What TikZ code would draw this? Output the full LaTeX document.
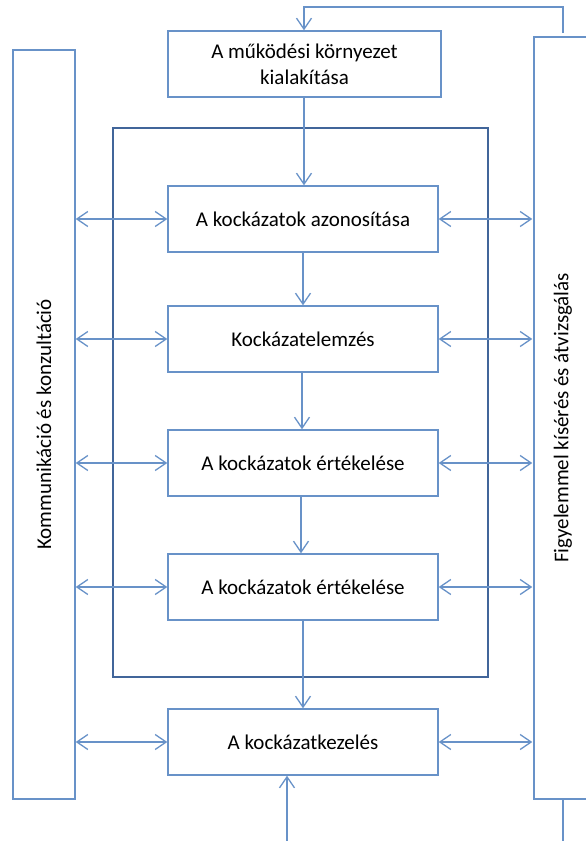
\documentclass[tikz,border=0pt]{standalone}
\usepackage{fontspec}
\setmainfont{Carlito}
\usetikzlibrary{arrows.meta,calc}
\definecolor{boxblue}{HTML}{6892C8}
\definecolor{darkblue}{HTML}{41659A}
\tikzset{
  stepbox/.style={draw=boxblue,line width=1.4pt,minimum width=270pt,minimum height=66pt,inner sep=0pt,font=\fontsize{21pt}{26pt}\selectfont,align=center},
  sidebox/.style={draw=boxblue,line width=1.4pt,inner sep=0pt},
  conn/.style={draw=boxblue,line width=1.3pt},
  arr/.style={conn,-{Straight Barb[length=11pt,width=15pt,line width=1.3pt]}},
  darr/.style={conn,{Straight Barb[length=11pt,width=15pt,line width=1.3pt]}-{Straight Barb[length=11pt,width=15pt,line width=1.3pt]}}
}
\begin{document}
\begin{tikzpicture}[x=1pt,y=-1pt]
\useasboundingbox (0,0) rectangle (586,841);
\clip (0,0) rectangle (586,841);
% inner frame
\node[draw=darkblue,line width=1.4pt,minimum width=375pt,minimum height=549pt,inner sep=0pt] (frame) at (300.5,402.5) {};
% side boxes
\node[sidebox,minimum width=62pt,minimum height=749pt] (left) at (44,424.5) {};
\node[rotate=90,font=\fontsize{21pt}{26pt}\selectfont] (lefttxt) at (left.center) {Kommunikáció és konzultáció};
\node[sidebox,minimum width=58pt,minimum height=762pt] (right) at (563,418) {};
\node[rotate=90,font=\fontsize{21pt}{26pt}\selectfont] (righttxt) at (right.center) {Figyelemmel kísérés és átvizsgálás};
% steps
\node[stepbox,minimum width=273pt,fill=white] (top) at (304.5,64) {A működési környezet\\kialakítása};
\node[stepbox,fill=white] (b1) at (303,219) {A kockázatok azonosítása};
\node[stepbox,fill=white] (b2) at (303,339) {Kockázatelemzés};
\node[stepbox,fill=white] (b3) at (303,463) {A kockázatok értékelése};
\node[stepbox,fill=white] (b4) at (303,587) {A kockázatok értékelése};
\node[stepbox,fill=white] (b5) at (303,742) {A kockázatkezelés};
% vertical flow
\draw[arr] (top.south -| 304,0) -- (b1.north -| 304,0);
\draw[arr] (b1.south) -- (b2.north);
\draw[arr] (b2.south -| 302,0) -- (b3.north -| 302,0);
\draw[arr] (b3.south -| 301,0) -- (b4.north -| 301,0);
\draw[arr] (b4.south) -- (b5.north);
% side arrows
\foreach \b in {b1,b2,b3,b4,b5}{
  \draw[darr] (left.east |- \b.west) -- (\b.west);
  \draw[darr] (\b.east) -- ($(right.west |- \b.east)+(-1,0)$);
}
% feedback loop
\coordinate (fbtop) at (563,33);
\coordinate (fbbot) at (563,841);
\coordinate (bin) at (287,841);
\draw[arr] (fbtop) -- (563,7) -| (top.north -| 304,0);
\draw[conn] (right.south) -- (fbbot);
\draw[arr] (bin) -- (bin |- b5.south);
\end{tikzpicture}
\end{document}
